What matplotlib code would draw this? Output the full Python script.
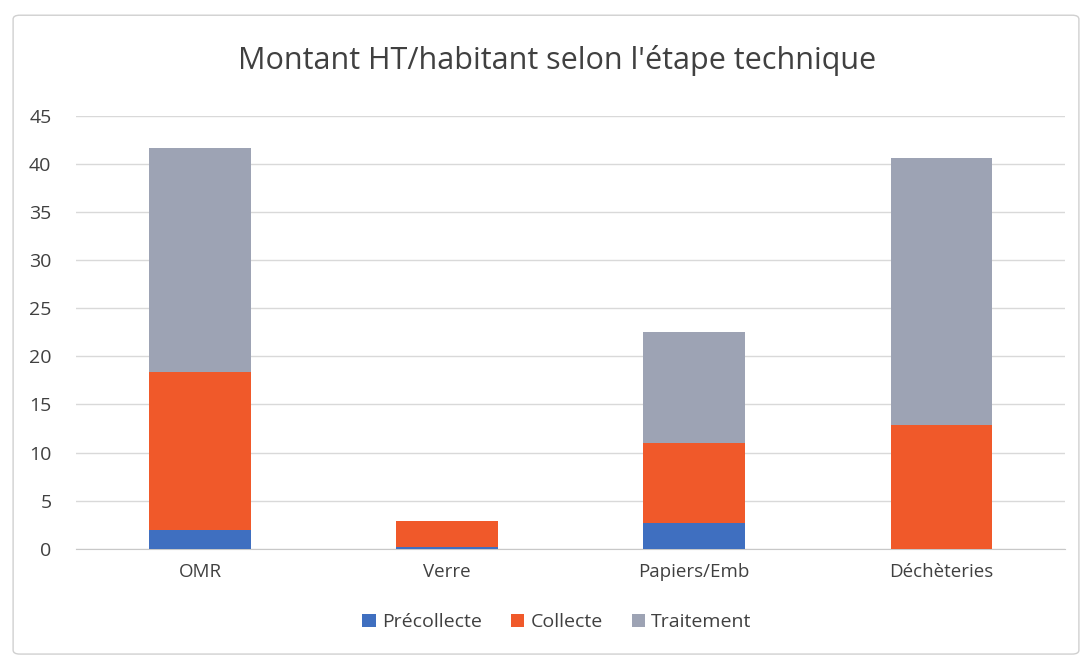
import numpy as np
import matplotlib
matplotlib.use('Agg')
import matplotlib.pyplot as plt
from matplotlib.patches import FancyBboxPatch

# data
categories = ['OMR', 'Verre', 'Papiers/Emb', 'Déchèteries']
precollecte = [2.0, 0.2, 2.7, 0.0]
collecte = [16.4, 2.7, 8.3, 12.9]
traitement = [23.3, 0.0, 11.5, 27.7]

series_names = ['Précollecte', 'Collecte', 'Traitement']
colors = ['#3F6FC0', '#F0592A', '#9DA3B4']

plt.rcParams['font.family'] = ['Open Sans', 'DejaVu Sans']

fig = plt.figure(figsize=(10.92, 6.62), dpi=100)

# chart frame
frame = FancyBboxPatch((0.012, 0.012), 0.976, 0.965, boxstyle='round,pad=0,rounding_size=0.006',
                       transform=fig.transFigure, facecolor='none', edgecolor='#D0D0D0', lw=1,
                       zorder=-1)
fig.patches.append(frame)

ax = fig.add_axes([0.07, 0.171, 0.905, 0.654])
ax.set_facecolor('none')

x = np.arange(len(categories))
w = 0.41
bottom = np.zeros(len(categories))
for vals, name, c in zip([precollecte, collecte, traitement], series_names, colors):
    ax.bar(x, vals, w, bottom=bottom, color=c, label=name, zorder=3)
    bottom += np.array(vals)

ax.set_ylim(0, 45)
ax.set_xlim(-0.5, len(categories) - 0.5)
ax.set_yticks(np.arange(0, 46, 5))
ax.grid(axis='y', color='#D9D9D9', lw=1, zorder=0)
for s in ['top', 'right', 'left']:
    ax.spines[s].set_visible(False)
ax.spines['bottom'].set_color('#C8C8C8')
ax.tick_params(axis='x', length=0, labelsize=13.5, colors='#404040', pad=10)
ax.tick_params(axis='y', length=0, labelsize=14, colors='#404040', pad=18)
ax.set_xticks(x)
ax.set_xticklabels(categories)

fig.text(0.51, 0.908, "Montant HT/habitant selon l'étape technique", ha='center', va='center',
         fontsize=22, color='#404040')

leg = fig.legend(loc='center', bbox_to_anchor=(0.51, 0.06), ncol=3, frameon=False,
                 fontsize=14, handlelength=0.7, handleheight=0.7, handletextpad=0.3,
                 columnspacing=1.5)
for t in leg.get_texts():
    t.set_color('#404040')

plt.savefig('out.png', dpi=100)
